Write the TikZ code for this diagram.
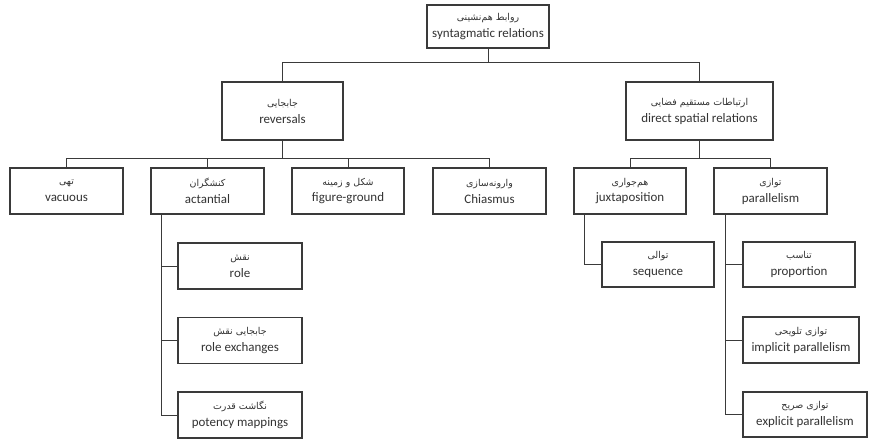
\documentclass[tikz,border=0pt]{standalone}
\usepackage{fontspec}
\setmainfont{Carlito}
\newfontfamily\fa[Script=Arabic]{DejaVu Sans}
\TeXXeTstate=1
\definecolor{ink}{HTML}{3A3A3A}
\definecolor{txt}{HTML}{333333}
\newcommand{\fatext}[1]{{\fa\fontsize{9.5}{11}\selectfont\beginR #1\endR}}
\newcommand{\bx}[2]{\fatext{#1}\\[5pt]{\fontsize{13}{15}\selectfont #2}}
\begin{document}
\begin{tikzpicture}[x=1bp,y=-1bp,
  box/.style={draw=ink, line width=1.1pt, align=center, text=txt, inner sep=1pt},
  conn/.style={draw=ink, line width=0.9pt}]
\useasboundingbox[fill=white] (0,0) rectangle (869,439);
% level 0
\node[box, minimum width=122bp, minimum height=43bp] (top) at (488,26.5) {\bx{روابط هم‌نشینی}{syntagmatic relations}};
% level 1
\node[box, minimum width=121bp, minimum height=58bp] (rev) at (282.5,111) {\bx{جابجایی}{reversals}};
\node[box, minimum width=147bp, minimum height=58bp] (dir) at (699.5,111) {\bx{ارتباطات مستقیم فضایی}{direct spatial relations}};
% level 2
\node[box, minimum width=113bp, minimum height=46bp] (vac) at (66.5,191) {\bx{تهی}{vacuous}};
\node[box, minimum width=113bp, minimum height=46bp] (act) at (207.5,191) {\bx{کنشگران}{actantial}};
\node[box, minimum width=112bp, minimum height=46bp] (fig) at (348,191) {\bx{شکل و زمینه}{figure-ground}};
\node[box, minimum width=113bp, minimum height=46bp] (chi) at (489.5,191) {\bx{وارونه‌سازی}{Chiasmus}};
\node[box, minimum width=112bp, minimum height=46bp] (jux) at (630,191) {\bx{هم‌جواری}{juxtaposition}};
\node[box, minimum width=113bp, minimum height=46bp] (par) at (770.5,191) {\bx{توازی}{parallelism}};
% level 3 under actantial
\node[box, minimum width=124bp, minimum height=46bp] (role) at (240,266) {\bx{نقش}{role}};
\node[box, minimum width=124bp, minimum height=46bp] (rex) at (240,340.5) {\bx{جابجایی نقش}{role exchanges}};
\node[box, minimum width=124bp, minimum height=46bp] (pot) at (240,415) {\bx{نگاشت قدرت}{potency mappings}};
% under juxtaposition
\node[box, minimum width=112bp, minimum height=45bp] (seq) at (658,264.5) {\bx{توالی}{sequence}};
% under parallelism
\node[box, minimum width=112bp, minimum height=45bp] (prop) at (799,264.5) {\bx{تناسب}{proportion}};
\node[box, minimum width=116bp, minimum height=46bp] (imp) at (801,340) {\bx{توازی تلویحی}{implicit parallelism}};
\node[box, minimum width=124bp, minimum height=45bp] (exp) at (805,414.5) {\bx{توازی صریح}{explicit parallelism}};
% connectors
\draw[conn] (top.south) -- ++(0,14) -| (rev.north);
\draw[conn] (top.south) -- ++(0,14) -| (dir.north);
\foreach \c in {vac,act,fig,chi}
  \draw[conn] (rev.south) -- ++(0,18) -| (\c.north);
\foreach \c in {jux,par}
  \draw[conn] (dir.south) -- ++(0,18) -| (\c.north);
\foreach \c in {role,rex,pot}
  \draw[conn] ([xshift=11bp]act.south west) |- (\c.west);
\draw[conn] ([xshift=11bp]jux.south west) |- (seq.west);
\foreach \c in {prop,imp,exp}
  \draw[conn] ([xshift=12bp]par.south west) |- (\c.west);
\end{tikzpicture}
\end{document}
